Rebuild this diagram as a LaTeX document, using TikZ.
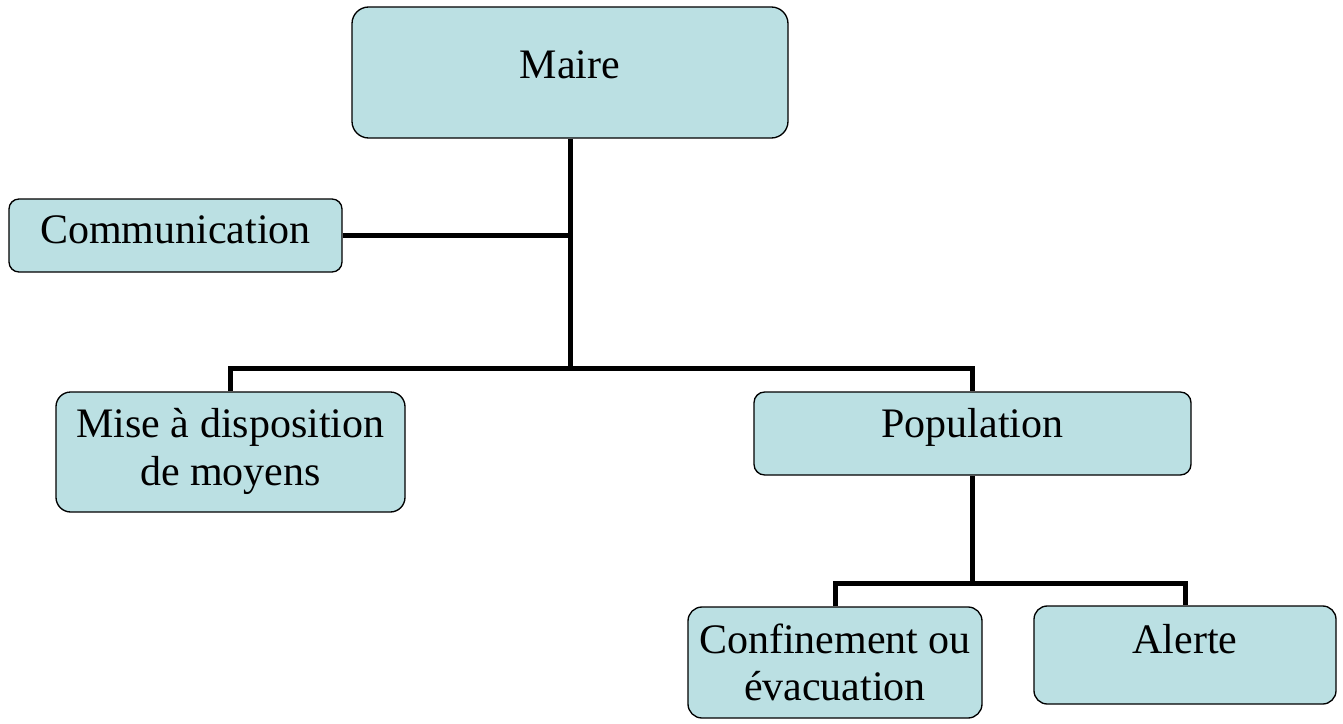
\documentclass[tikz,border=0pt]{standalone}
\usepackage{fontspec}
\setmainfont{Liberation Serif}
\definecolor{boxfill}{RGB}{187,224,227}
\begin{document}
\begin{tikzpicture}[x=0.75pt,y=-0.75pt,
  box/.style={draw=black,fill=boxfill,line width=1pt,inner sep=0pt,rectangle},
  txt/.style={inner sep=0pt,anchor=base,font=\fontsize{31.5}{36}\selectfont},
  conn/.style={draw=black,line width=3.75pt,line join=miter}]
\useasboundingbox (0,0) rectangle (1343,724);
% boxes
\node[box,minimum width=327pt,minimum height=98.25pt,rounded corners=12.5pt] (maire) at (570,72.5) {};
\node[box,minimum width=249.75pt,minimum height=54.75pt,rounded corners=7.5pt] (comm) at (175.5,235.5) {};
\node[box,minimum width=261.75pt,minimum height=90pt,rounded corners=11pt] (mise) at (230.5,452) {};
\node[box,minimum width=327.75pt,minimum height=62.25pt,rounded corners=8pt] (pop) at (972.5,433.5) {};
\node[box,minimum width=220.5pt,minimum height=83.25pt,rounded corners=10.5pt] (conf) at (835,662.5) {};
\node[box,minimum width=226.5pt,minimum height=73.5pt,rounded corners=10pt] (alerte) at (1185,655) {};
% texts
\node[txt] (maireT) at (570,79) {Maire};
\node[txt] (commT) at (175.5,243) {Communication};
\node[txt] (miseT1) at (230.5,437) {Mise à disposition};
\node[txt] (miseT2) at (230.5,485) {de moyens};
\node[txt] (popT) at (972.5,437) {Population};
\node[txt] (confT1) at (835,653) {Confinement ou};
\node[txt] (confT2) at (835,700) {évacuation};
\node[txt] (alerteT) at (1185,653) {Alerte};
% connectors
\coordinate (hub) at (570,368);
\coordinate (hub2) at (972.5,583);
\draw[conn] (maire.south) -- (hub);
\draw[conn] (comm.east) -- (comm.east -| maire.south);
\draw[conn] (mise.north) -- (mise.north |- hub) -- (pop.north |- hub) -- (pop.north);
\draw[conn] (pop.south) -- (hub2);
\draw[conn] (conf.north) -- (conf.north |- hub2) -- (alerte.north |- hub2) -- (alerte.north);
\end{tikzpicture}
\end{document}
